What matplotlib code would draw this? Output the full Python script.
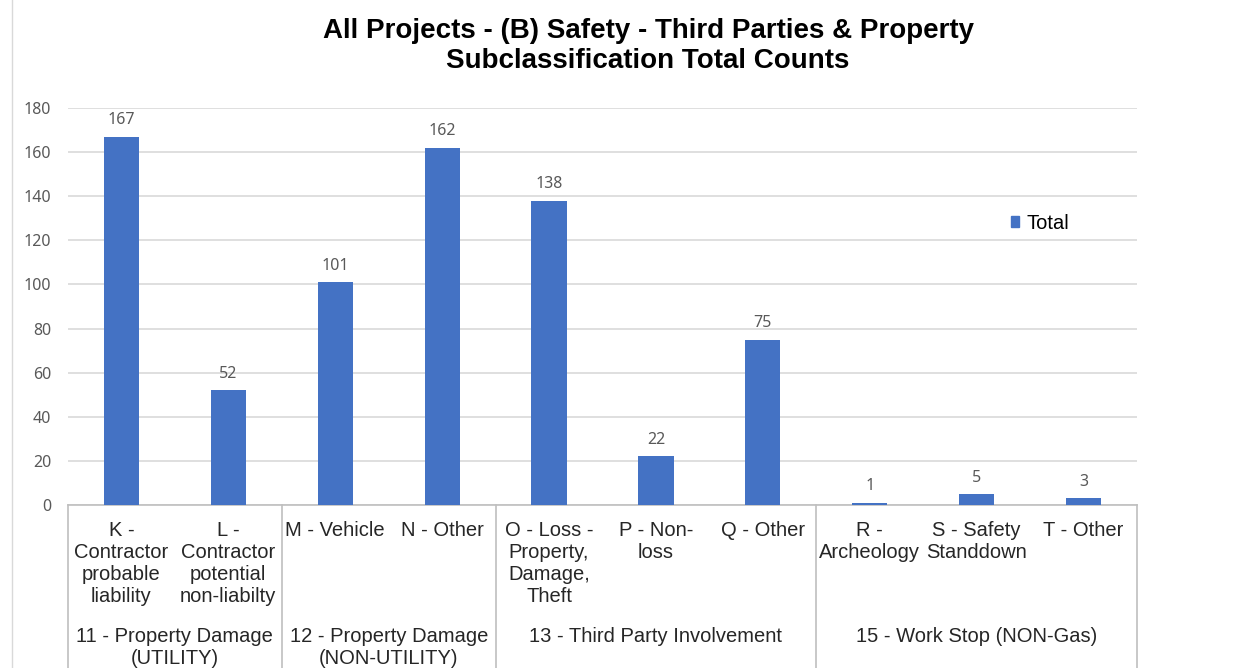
import matplotlib
matplotlib.use("Agg")
import matplotlib.pyplot as plt
from matplotlib.lines import Line2D
from matplotlib.patches import Patch

# data
subcats = ["K -\nContractor\nprobable\nliability", "L -\nContractor\npotential\nnon-liabilty",
           "M - Vehicle", "N - Other",
           "O - Loss -\nProperty,\nDamage,\nTheft", "P - Non-\nloss", "Q - Other",
           "R -\nArcheology", "S - Safety\nStanddown", "T - Other"]
totals = [167, 52, 101, 162, 138, 22, 75, 1, 5, 3]
groups = ["11 - Property Damage\n(UTILITY)", "12 - Property Damage\n(NON-UTILITY)",
          "13 - Third Party Involvement", "15 - Work Stop (NON-Gas)"]
group_sizes = [2, 2, 3, 3]

BLUE = "#4472C4"
GRID = "#D9D9D9"
AXC = "#BFBFBF"
TXT = "#262626"
NUM = "#595959"
cat_font = "Liberation Sans"
num_font = "Noto Sans"

fig = plt.figure(figsize=(12.44, 6.68), dpi=100)
ax = fig.add_axes([68/1244, 1-505/668, (1137-68)/1244, (505-108)/668])
axh = 397.0  # axes height in pixels

x = list(range(len(totals)))
bars = ax.bar(x, totals, width=0.33, color=BLUE, zorder=3)
for xi, v in zip(x, totals):
    ax.annotate(str(v), (xi, v), xytext=(0, 6), textcoords="offset points",
                ha="center", va="bottom", fontsize=11.5, color=NUM, family=num_font)

ax.set_xlim(-0.5, len(totals) - 0.5)
ax.set_ylim(0, 180)
ax.set_yticks(range(0, 181, 20))
ax.yaxis.grid(True, color=GRID, lw=1.2, zorder=0)
ax.set_xticks([])
ax.tick_params(axis="y", length=0, pad=12, labelsize=11.5, labelcolor=NUM)
for lab in ax.get_yticklabels():
    lab.set_family(num_font)
for s in ["top", "right", "left"]:
    ax.spines[s].set_visible(False)
ax.spines["bottom"].set_color(AXC)
ax.spines["bottom"].set_linewidth(1.2)

# multi-level category axis
tr = ax.get_xaxis_transform()
for xi, lab in zip(x, subcats):
    ax.text(xi, -16/axh, lab, transform=tr, ha="center", va="top", fontsize=14.5,
            color=TXT, family=cat_font, linespacing=1.2, clip_on=False)

bottom = -(668 - 505) / axh
start = -0.5
ax.plot([start, start], [0, bottom], transform=tr, color=AXC, lw=1.2, clip_on=False)
for g, n in zip(groups, group_sizes):
    end = start + n
    ax.plot([end, end], [0, bottom], transform=tr, color=AXC, lw=1.2, clip_on=False)
    ax.text((start + end) / 2, -122/axh, g, transform=tr, ha="center", va="top",
            fontsize=14.5, color=TXT, family=cat_font, linespacing=1.2, clip_on=False)
    start = end

# legend
ax.legend(handles=[Patch(color=BLUE, label="Total")], loc="center left",
          bbox_to_anchor=(0.865, 0.71), frameon=False, handlelength=0.42, handleheight=0.42,
          handletextpad=0.35, prop={"family": cat_font, "size": 14.5})

fig.text(0.521, 1-46/668, "All Projects - (B) Safety - Third Parties & Property\nSubclassification Total Counts",
         ha="center", va="center", fontsize=20, fontweight="bold", family=cat_font,
         color="black", linespacing=1.22)

# faint spreadsheet edge at the left
fig.add_artist(Line2D([12/1244, 12/1244], [0, 1], color=GRID, lw=1.0))

fig.savefig("out.png", dpi=100)
